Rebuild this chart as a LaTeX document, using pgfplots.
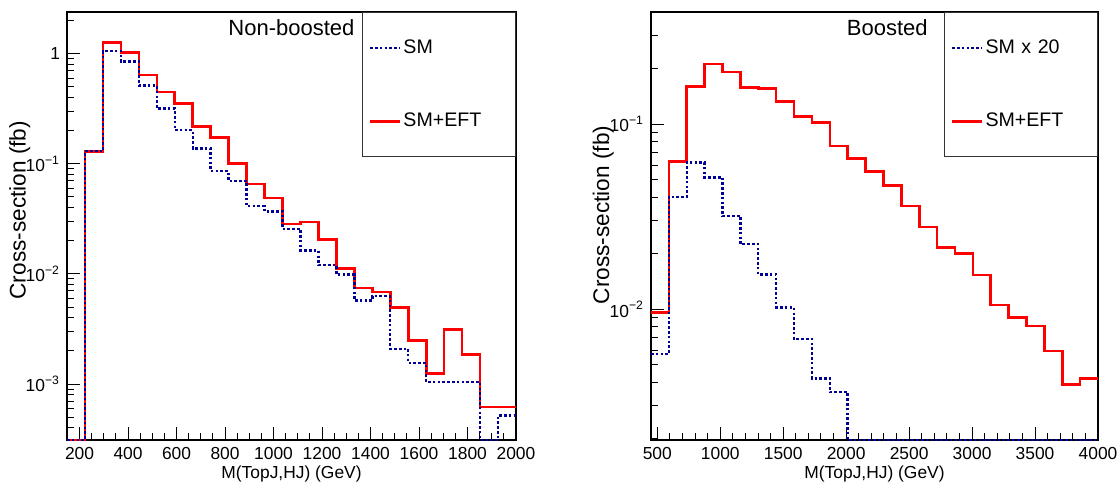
\documentclass[border=0pt]{standalone}
\usepackage{fontspec}
\setmainfont{Liberation Sans}
\usepackage{pgfplots}
\pgfplotsset{compat=1.18}
\definecolor{rootred}{HTML}{FF0000}
\definecolor{rootblue}{HTML}{000099}

\tikzset{
 eft/.style={rootred, line width=1.3pt},
 sm/.style={rootblue, line width=1.2pt, dash pattern=on 1.3pt off 1.1pt},
}
\pgfplotsset{every axis/.append style={
  scale only axis, height=214pt,
  axis line style={line width=0.6pt},
  tick pos=left, tick align=inside,
  major tick length=6.5pt, minor tick length=3.5pt,
  every tick/.style={black, line width=0.5pt},
  tick label style={font=\fontsize{8.7}{10}\selectfont},
  /pgf/number format/assume math mode=true,
  /pgf/number format/1000 sep={},
  scaled x ticks=false,
  xlabel={M(TopJ,HJ) (GeV)}, ylabel={Cross-section (fb)},
  xlabel style={font=\fontsize{8.7}{10}\selectfont, at={(axis description cs:0.5,0)}, anchor=center, yshift=-17pt},
  ylabel style={font=\fontsize{11.3}{13}\selectfont, anchor=center},
  legend cell align=left,
  legend image code/.code={\draw[##1] (0pt,0pt) -- (15pt,0pt);},
  legend style={at={(rel axis cs:1,1)}, anchor=north east, draw=black!80, line width=0.5pt,
   fill=white, font=\fontsize{9.8}{11}\selectfont, inner xsep=3pt, inner ysep=12.5pt,
   row sep=26.5pt, nodes={inner sep=1pt, text width=52pt, align=left}},
 }}

\begin{document}
\begin{tikzpicture}
\path[use as bounding box] (0,0) rectangle (560pt,242pt);

% non-boosted
\begin{axis}[ymode=log, at={(33.5pt,22pt)}, anchor=south west, width=224.5pt,
 xmin=148.15, xmax=2000, ymin=3.1e-4, ymax=2.39,
 xtick={200,400,600,800,1000,1200,1400,1600,1800,2000}, minor x tick num=3,
 ytick={0.001,0.01,0.1,1}, yticklabels={10\textsuperscript{−3},10\textsuperscript{−2},10\textsuperscript{−1},1},
 minor ytick={4e-4,5e-4,6e-4,7e-4,8e-4,9e-4,0.002,0.003,0.004,0.005,0.006,0.007,0.008,0.009,
  0.02,0.03,0.04,0.05,0.06,0.07,0.08,0.09,0.2,0.3,0.4,0.5,0.6,0.7,0.8,0.9,2},
 ylabel style={at={(axis description cs:-0.105,0.537)}}]
\addlegendimage{sm}\addlegendentry{SM}
\addlegendimage{eft}\addlegendentry{SM+EFT}
\addplot[eft, const plot mark left, forget plot] coordinates {
 (148.15,3.1e-4) (222.22,0.130) (296.30,1.26) (370.37,1.02) (444.44,0.64) (518.52,0.448)
 (592.59,0.351) (666.67,0.217) (740.74,0.173) (814.81,0.100) (888.89,0.0658) (962.96,0.049)
 (1037.04,0.0285) (1111.11,0.0297) (1185.19,0.0205) (1259.26,0.0112) (1333.33,0.00746)
 (1407.41,0.00686) (1481.48,0.00497) (1555.56,0.00248) (1629.63,0.00124) (1703.70,0.00312)
 (1777.78,0.00185) (1851.85,0.000618) (1925.93,0.000618) (2000,0.000618)};
\addplot[sm, const plot mark left, forget plot] coordinates {
 (148.15,3.1e-4) (222.22,0.130) (296.30,1.056) (370.37,0.846) (444.44,0.515) (518.52,0.318)
 (592.59,0.202) (666.67,0.138) (740.74,0.0857) (814.81,0.0695) (888.89,0.0412) (962.96,0.037)
 (1037.04,0.0256) (1111.11,0.0163) (1185.19,0.012) (1259.26,0.00986) (1333.33,0.00572)
 (1407.41,0.00626) (1481.48,0.00209) (1555.56,0.00155) (1629.63,0.00104) (1703.70,0.00104)
 (1777.78,0.00104) (1851.85,3.1e-4) (1925.93,0.000518) (2000,0.000518)};
\node[anchor=east, inner sep=0pt, font=\fontsize{11}{12}\selectfont] at (rel axis cs:0.641,0.9626) {Non-boosted};
\end{axis}

% boosted
\begin{axis}[ymode=log, at={(325.5pt,22pt)}, anchor=south west, width=223.5pt,
 xmin=450, xmax=4000, ymin=0.00196, ymax=0.403,
 xtick={500,1000,1500,2000,2500,3000,3500,4000}, minor x tick num=4,
 ytick={0.01,0.1}, yticklabels={10\textsuperscript{−2},10\textsuperscript{−1}},
 minor ytick={0.002,0.003,0.004,0.005,0.006,0.007,0.008,0.009,
  0.02,0.03,0.04,0.05,0.06,0.07,0.08,0.09,0.2,0.3,0.4},
 ylabel style={at={(axis description cs:-0.107,0.526)}}]
\addlegendimage{sm}\addlegendentry{SM x 20}
\addlegendimage{eft}\addlegendentry{SM+EFT}
\addplot[eft, const plot mark left, forget plot] coordinates {
 (450,0.0096) (592,0.0626) (734,0.160) (876,0.211) (1018,0.191) (1160,0.158) (1302,0.155)
 (1444,0.132) (1586,0.1095) (1728,0.1016) (1870,0.076) (2012,0.0653) (2154,0.0552)
 (2296,0.0464) (2438,0.036) (2580,0.0277) (2722,0.0215) (2864,0.020) (3006,0.0153)
 (3148,0.0105) (3290,0.00898) (3432,0.00809) (3574,0.00593) (3716,0.00392) (3858,0.00422)
 (4000,0.00422)};
\addplot[sm, const plot mark left, forget plot] coordinates {
 (450,0.00571) (592,0.0403) (734,0.0620) (876,0.0515) (1018,0.0318) (1160,0.0224)
 (1302,0.0154) (1444,0.0102) (1586,0.00689) (1728,0.00422) (1870,0.00355) (2012,0.00196)
 (4000,0.00196)};
\node[anchor=east, inner sep=0pt, font=\fontsize{11}{12}\selectfont] at (rel axis cs:0.6197,0.9626) {Boosted};
\end{axis}
\end{tikzpicture}
\end{document}
